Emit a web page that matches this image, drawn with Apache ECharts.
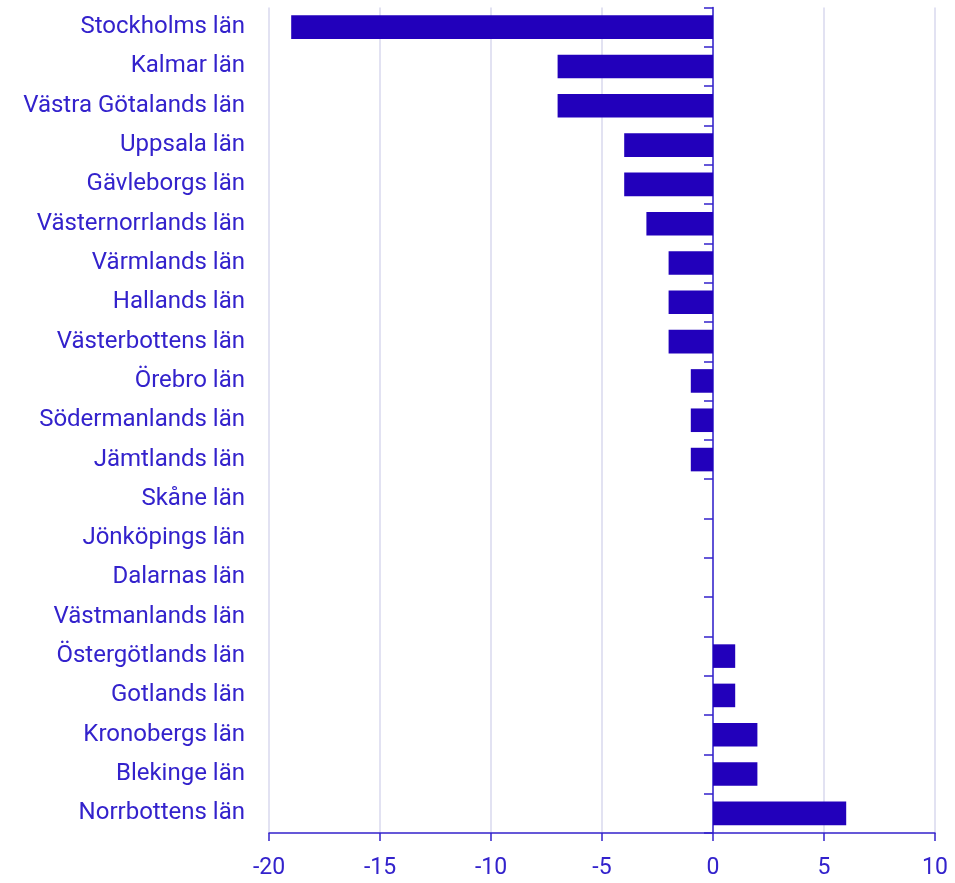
<!DOCTYPE html>
<html><head><meta charset="utf-8">
<script src="https://cdn.jsdelivr.net/npm/echarts@6/dist/echarts.min.js"></script>
<style>html,body{margin:0;padding:0;background:#fff}#c{width:955px;height:883px}</style>
</head><body><div id="c"></div>
<script>
const categories = ["Stockholms län","Kalmar län","Västra Götalands län","Uppsala län","Gävleborgs län","Västernorrlands län","Värmlands län","Hallands län","Västerbottens län","Örebro län","Södermanlands län","Jämtlands län","Skåne län","Jönköpings län","Dalarnas län","Västmanlands län","Östergötlands län","Gotlands län","Kronobergs län","Blekinge län","Norrbottens län"];
const values = [-19,-7,-7,-4,-4,-3,-2,-2,-2,-1,-1,-1,0,0,0,0,1,1,2,2,6];
const xMin = -20, xMax = 10, xStep = 5;

const textColor = '#3322cc';
const barColor = '#2200bb';
const axisColor = '#3322cc';
const chart = echarts.init(document.getElementById('c'));
chart.setOption({
  animation: false,
  grid: {left: 269, right: 20, top: 7.5, bottom: 50, containLabel: false},
  xAxis: {
    type: 'value', min: xMin, max: xMax, interval: xStep,
    axisLine: {show: true, onZero: false, lineStyle: {color: axisColor, width: 1.5}},
    axisTick: {show: true, length: 8, lineStyle: {color: axisColor, width: 1.5}},
    axisLabel: {color: textColor, fontFamily: 'Roboto', fontSize: 23, margin: 24},
    splitLine: {show: true, lineStyle: {color: '#d8d8ee', width: 1.5}}
  },
  yAxis: [{
    type: 'category', data: categories, inverse: true, position: 'left',
    axisLine: {show: false, onZero: false},
    axisTick: {show: false},
    axisLabel: {color: textColor, fontFamily: 'Roboto', fontSize: 24, margin: 24, padding: [4, 0, 0, 0]},
    splitLine: {show: false}
  },{
    type: 'category', data: categories, inverse: true, position: 'left',
    axisLine: {show: true, onZero: true, lineStyle: {color: axisColor, width: 1.5}},
    axisTick: {show: true, inside: false, length: 9, lineStyle: {color: axisColor, width: 1.5}},
    axisLabel: {show: false},
    splitLine: {show: false}
  }],
  series: [{
    type: 'bar', data: values, yAxisIndex: 0, barCategoryGap: '40%',
    itemStyle: {color: barColor}
  }]
});
</script></body></html>
